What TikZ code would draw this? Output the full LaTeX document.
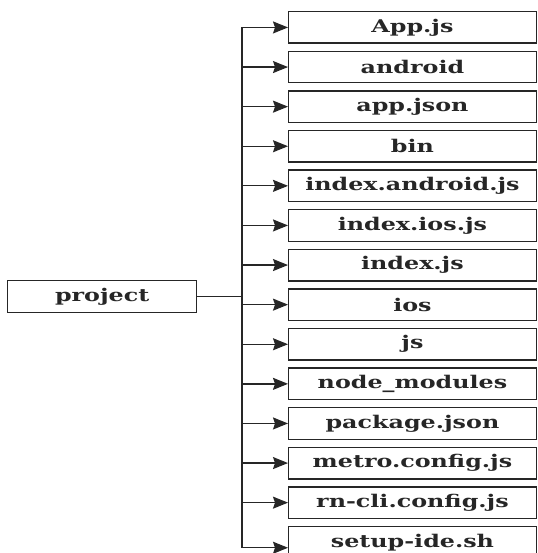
\documentclass[tikz,border=0pt]{standalone}
\usepackage{fontspec}
\setmainfont{DejaVu Serif}[FakeStretch=1.36]
\usetikzlibrary{arrows.meta}
\begin{document}
\begin{tikzpicture}[x=1pt,y=-1pt,
  box/.style={draw=black!85, line width=1.4pt, inner sep=0pt, anchor=north west,
    font=\bfseries\fontsize{17.5}{19}\selectfont, text=black!85},
  filebox/.style={box, minimum width=247.5pt, minimum height=31.5pt},
  projbox/.style={box, minimum width=189pt, minimum height=32pt},
  trunk/.style={draw=black!85, line width=2.2pt},
  link/.style={draw=black!85, line width=1.3pt},
  arr/.style={link, -{Stealth[length=15pt,width=12pt,inset=2pt]}}]
\useasboundingbox (0,0) rectangle (537,553);
\foreach \t [count=\i] in {App.js, android, app.json, bin, index.android.js, index.ios.js, index.js, ios, js, node\_modules, package.json, metro.config.js, rn-cli.config.js, setup-ide.sh}
  {\node[filebox] (n\i) at (288,{11+39.6*(\i-1)}) {\t};}
\node[projbox] (p) at (7,280) {project};
\coordinate (t) at (242,0);
\coordinate (last) at ([yshift=-5.5pt]n14.west);
\draw[trunk] (n1.west -| t) -- (last -| t);
\draw[link] (p.east) -- (p.east -| t);
\foreach \i in {1,...,13}
  {\draw[arr] (n\i.west -| t) -- (n\i.west);}
\draw[arr] (last -| t) -- (last);
\end{tikzpicture}
\end{document}
